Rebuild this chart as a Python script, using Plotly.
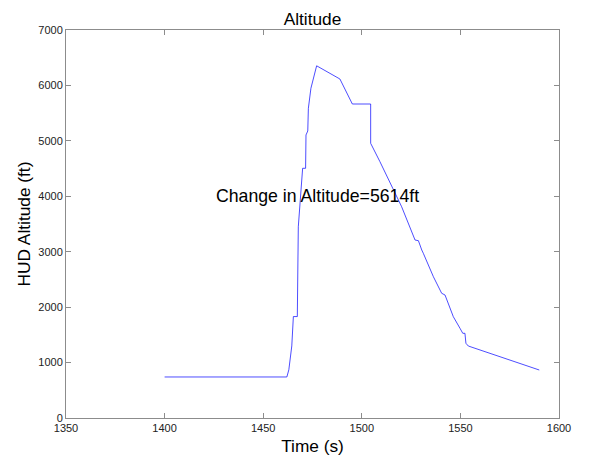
import plotly.graph_objects as go

time_s = [1400, 1462, 1463, 1464.5, 1465.3, 1467.3, 1467.8, 1469.0, 1470.0, 1471.5,
          1471.7, 1472.6, 1472.9, 1474.2, 1477.1, 1488.9, 1495.2, 1504.5, 1504.5,
          1509.2, 1516.0, 1520.2, 1527.0, 1528.7, 1530.4, 1531.2, 1536.3, 1540.5,
          1542.2, 1546.4, 1549.8, 1551.2, 1552.3, 1552.8, 1554.0, 1590.0]
altitude_ft = [740, 740, 870, 1300, 1830, 1830, 3450, 4050, 4505, 4505,
               5106, 5178, 5587, 5948, 6354, 6116, 5665, 5665, 4956,
               4624, 4113, 3812, 3211, 3199, 3031, 2971, 2549, 2250,
               2219, 1828, 1618, 1528, 1528, 1348, 1299, 866]

x_ticks = [1350, 1400, 1450, 1500, 1550, 1600]
y_ticks = [0, 1000, 2000, 3000, 4000, 5000, 6000, 7000]

title_text = "Altitude"
x_label = "Time (s)"
y_label = "HUD Altitude (ft)"
note_text = "Change in Altitude=5614ft"
note_x, note_y = 1425, 4000

font_family = "Liberation Sans, Arial, Helvetica, sans-serif"
axis_color = "#8c8c8c"

# The page body has an 8px default margin, so the figure is drawn 8px smaller
# and its margins are offset to land the axes where the reference has them.
fig_w, fig_h = 582, 453

fig = go.Figure()
fig.add_trace(go.Scatter(x=time_s, y=altitude_ft, mode="lines",
                         line=dict(color="#0000ff", width=0.7), showlegend=False,
                         hoverinfo="skip"))

axis_common = dict(showline=True, linecolor=axis_color, linewidth=1, mirror="ticks",
                   ticks="inside", ticklen=5, tickcolor=axis_color, tickwidth=1,
                   showgrid=False, zeroline=False, automargin=False,
                   tickfont=dict(family=font_family, size=11, color="#222222"))

fig.update_layout(
    width=fig_w, height=fig_h,
    margin=dict(l=58, r=31, t=22, b=43, pad=0),
    paper_bgcolor="white", plot_bgcolor="white",
    title=dict(text=title_text, x=(58 + (fig_w - 31)) / 2 / fig_w, xanchor="center",
               y=1 - 10.5 / fig_h, yanchor="middle",
               font=dict(family=font_family, size=17.3, color="black")),
    xaxis=dict(range=[1350, 1600], tickvals=x_ticks, ticktext=[str(v) for v in x_ticks],
               title=dict(text=x_label, standoff=6, font=dict(family=font_family, size=17.3, color="black")),
               **axis_common),
    yaxis=dict(range=[0, 7000], tickvals=y_ticks, ticktext=[str(v) for v in y_ticks],
               title=dict(text=y_label, standoff=3, font=dict(family=font_family, size=17.3, color="black")),
               **axis_common),
    annotations=[dict(x=note_x, y=note_y, xref="x", yref="y", text=note_text,
                      showarrow=False, xanchor="left", yanchor="middle",
                      font=dict(family=font_family, size=17.7, color="black"))],
)

fig.write_html("out.html")
